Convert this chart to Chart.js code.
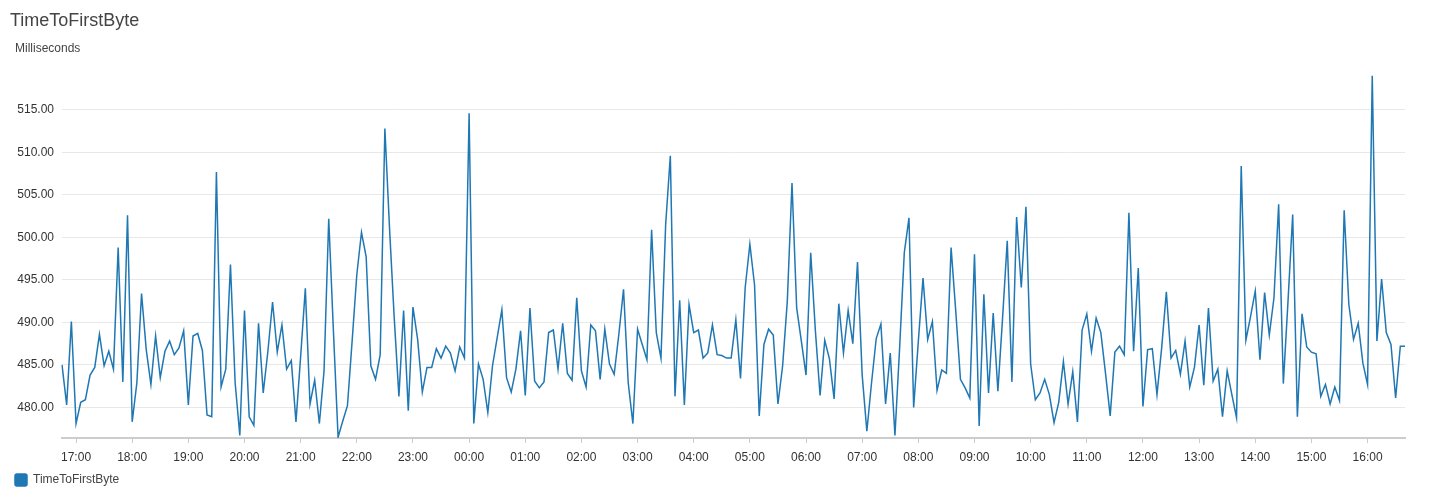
<!DOCTYPE html>
<html>
<head>
<meta charset="utf-8">
<title>TimeToFirstByte</title>
<script src="https://cdn.jsdelivr.net/npm/chart.js@4.4.0/dist/chart.umd.min.js"></script>
<style>
    body { margin: 0; background: #fff; font-family: Arial, "Liberation Sans", sans-serif; }
    #wrap { position: relative; width: 1440px; height: 500px; }
    #title { position: absolute; left: 10px; top: 11px; font-size: 18px; line-height: 18px; color: #444; }
    #unit { position: absolute; left: 15px; top: 42px; font-size: 12px; line-height: 12px; color: #444; }
    #ttfbChart { position: absolute; left: 0; top: 0; }
</style>
</head>
<body>
<div id="wrap">
    <canvas id="ttfbChart" width="1440" height="500"></canvas>
    <div id="title">TimeToFirstByte</div>
    <div id="unit">Milliseconds</div>
</div>
<script>
// Sampling: one point every 5 minutes, starting 16:45
const startTime = '16:45';
const stepMinutes = 5;

// TimeToFirstByte (ms), one row per hour (12 samples)
const ttfbValues = [
    485.0, 480.3, 490.1, 478.1, 480.6, 480.9, 483.8, 484.7, 488.6, 484.9, 486.6, 484.5,
    498.8, 483.0, 502.6, 478.3, 482.9, 493.4, 486.8, 482.7, 488.4, 483.5, 486.6, 487.8,
    486.2, 487.0, 489.0, 480.3, 488.4, 488.7, 486.7, 479.1, 478.9, 507.7, 482.4, 484.5,
    496.8, 482.9, 476.7, 491.4, 478.9, 477.9, 489.9, 481.7, 486.6, 492.4, 486.5, 489.7,
    484.5, 485.5, 478.3, 486.0, 494.0, 480.4, 483.2, 478.1, 484.3, 502.2, 489.0, 476.5,
    478.4, 480.2, 487.8, 495.6, 500.6, 497.7, 484.9, 483.3, 486.2, 512.8, 501.0, 490.5,
    481.3, 491.4, 479.6, 491.8, 488.0, 481.8, 484.7, 484.7, 486.9, 485.8, 487.2, 486.4,
    484.3, 487.1, 485.8, 514.6, 478.1, 485.1, 483.3, 479.4, 484.9, 488.2, 491.5, 483.5,
    481.8, 484.5, 489.0, 481.4, 491.7, 483.1, 482.3, 483.0, 488.8, 489.1, 484.5, 489.9,
    484.0, 483.2, 492.9, 484.3, 482.4, 489.7, 489.0, 483.3, 489.2, 485.1, 483.9, 488.6,
    493.9, 482.9, 478.1, 489.2, 487.4, 485.6, 500.9, 488.8, 485.8, 501.5, 509.6, 481.3,
    492.6, 480.3, 492.1, 488.8, 489.1, 485.8, 486.4, 489.7, 486.2, 486.1, 485.8, 485.8,
    490.3, 483.4, 494.1, 499.2, 494.4, 479.0, 487.4, 489.2, 488.5, 480.4, 484.9, 492.5,
    506.4, 491.7, 487.8, 483.8, 498.2, 489.0, 481.4, 487.9, 485.7, 481.0, 492.2, 486.4,
    491.4, 487.5, 497.1, 483.8, 477.2, 482.9, 488.1, 489.8, 480.4, 486.4, 476.7, 487.0,
    498.2, 502.3, 480.0, 487.8, 495.2, 488.0, 490.1, 482.0, 484.4, 484.0, 498.8, 491.3,
    483.3, 482.3, 481.1, 498.0, 477.8, 493.3, 481.7, 491.1, 481.9, 490.5, 499.6, 483.0,
    502.4, 494.1, 503.6, 485.1, 480.9, 481.7, 483.3, 481.5, 478.2, 480.6, 485.4, 480.4,
    484.2, 478.3, 489.1, 491.0, 486.6, 490.5, 488.8, 484.0, 479.0, 486.5, 487.2, 486.2,
    502.9, 486.6, 496.4, 480.1, 486.8, 486.9, 481.5, 487.0, 493.6, 485.8, 486.7, 483.9,
    487.8, 482.4, 484.7, 489.7, 482.6, 491.7, 483.1, 484.5, 478.9, 484.3, 481.5, 478.8,
    508.4, 487.9, 490.7, 493.7, 485.6, 493.5, 488.5, 492.9, 503.9, 482.8, 492.5, 502.7,
    478.9, 491.0, 487.1, 486.5, 486.3, 481.3, 482.7, 480.4, 482.4, 480.8, 503.2, 492.1,
    488.0, 489.9, 485.2, 482.7, 519.0, 487.8, 495.1, 488.8, 487.4, 481.1, 487.2, 487.2
];

// y axis ticks shown on the chart
const yTicks = [480, 485, 490, 495, 500, 505, 510, 515];
const yMin = 476.4;
const yMax = 519.1;

// time labels (HH:MM) for each sample
const timeLabels = [];
(function() {
    const parts = startTime.split(':');
    let m = parseInt(parts[0], 10) * 60 + parseInt(parts[1], 10);
    for (let i = 0; i < ttfbValues.length; i++) {
        const t = m % (24 * 60);
        const hh = String(Math.floor(t / 60)).padStart(2, '0');
        const mm = String(t % 60).padStart(2, '0');
        timeLabels.push(hh + ':' + mm);
        m += stepMinutes;
    }
})();

const lineColor = '#1f77b4';
const fontFamily = 'Arial, "Liberation Sans", sans-serif';

const ctx = document.getElementById('ttfbChart');
new Chart(ctx, {
    type: 'line',
    data: {
        labels: timeLabels,
        datasets: [{
            label: 'TimeToFirstByte',
            data: ttfbValues,
            borderColor: lineColor,
            backgroundColor: lineColor,
            borderWidth: 1.5,
            pointRadius: 0,
            tension: 0,
            fill: false
        }]
    },
    options: {
        responsive: false,
        animation: false,
        layout: {
            padding: { left: 5, top: 75, right: 35, bottom: 4 }
        },
        plugins: {
            tooltip: { enabled: false },
            legend: {
                position: 'bottom',
                align: 'start',
                labels: {
                    boxWidth: 12,
                    boxHeight: 12,
                    padding: 10,
                    color: '#444',
                    useBorderRadius: true,
                    borderRadius: 2,
                    font: { family: fontFamily, size: 12 }
                }
            }
        },
        scales: {
            x: {
                type: 'category',
                offset: false,
                afterFit: function(scale) { scale.height = 26; },
                border: { display: true, color: '#cccccc', width: 2 },
                grid: {
                    drawOnChartArea: false,
                    drawTicks: true,
                    tickLength: 5,
                    color: '#cccccc'
                },
                ticks: {
                    autoSkip: false,
                    maxRotation: 0,
                    padding: 7,
                    color: '#333',
                    font: { family: fontFamily, size: 12 },
                    callback: function(val) {
                        const l = this.getLabelForValue(val);
                        return l.endsWith(':00') ? l : null;
                    }
                }
            },
            y: {
                min: yMin,
                max: yMax,
                afterFit: function(scale) { scale.width = 57; },
                afterBuildTicks: function(scale) {
                    scale.ticks = yTicks.map(function(v) { return { value: v }; });
                },
                border: { display: false },
                grid: { color: '#e8e8e8', drawTicks: false },
                ticks: {
                    padding: 8,
                    color: '#333',
                    font: { family: fontFamily, size: 12 },
                    callback: function(v) { return Number(v).toFixed(2); }
                }
            }
        }
    }
});
</script>
</body>
</html>
